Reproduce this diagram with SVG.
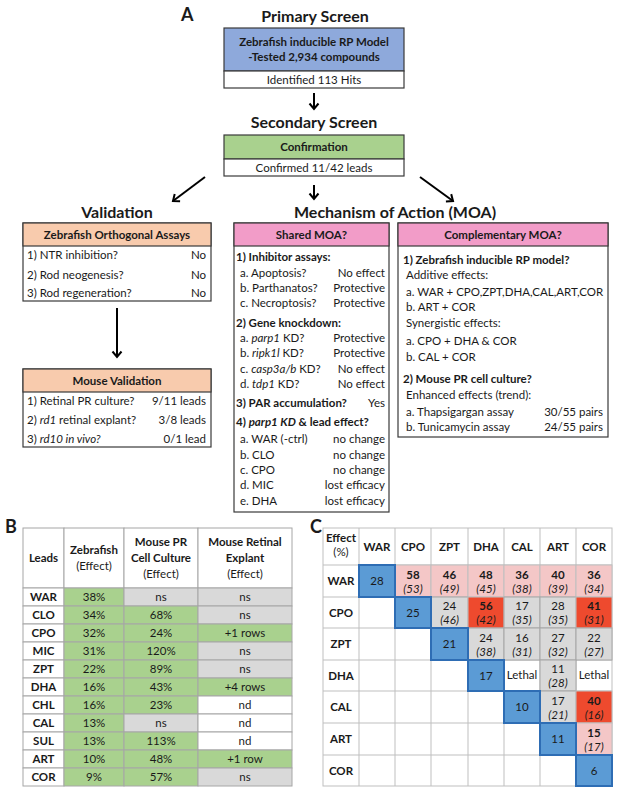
<svg xmlns="http://www.w3.org/2000/svg" width="617" height="792" viewBox="0 0 617 792">
<style>
text{font-family:Lato,"Liberation Sans",sans-serif;font-size:11.5px;fill:#1a1a1a}
.b{font-weight:bold}
.h{font-size:16px;font-weight:bold}
.L{font-size:18px;font-weight:bold}
.m{text-anchor:middle}
.e{text-anchor:end}
.i{font-style:italic}
.box{fill:#fff;stroke:#3a3a3a;stroke-width:1.2}
.blue{fill:#8EA9DB;stroke:#3a3a3a;stroke-width:1.2}
.green{fill:#A9D18E;stroke:#3a3a3a;stroke-width:1.2}
.peach{fill:#F8CBAD;stroke:#3a3a3a;stroke-width:1.2}
.pink{fill:#F29CC8;stroke:#3a3a3a;stroke-width:1.2}
.arr{stroke:#000;stroke-width:2;fill:none}
.cg{fill:#A9D18E;stroke:#A6A6A6;stroke-width:1}
.cn{fill:#D9D9D9;stroke:#A6A6A6;stroke-width:1}
.cw{fill:#fff;stroke:#A6A6A6;stroke-width:1}
.cp{fill:#F4C7C7;stroke:#BFBFBF;stroke-width:1}
.cr{fill:#EE4A2E;stroke:#BFBFBF;stroke-width:1}
.cb{fill:#5B9BD5;stroke:#2E6DB4;stroke-width:2}
</style>
<defs>
<marker id="ah" viewBox="-7 -6 9 12" markerWidth="9" markerHeight="12" refX="0" refY="0" orient="auto" markerUnits="userSpaceOnUse">
<path d="M-5.5,-4.5 L0,0 L-5.5,4.5" fill="none" stroke="#000" stroke-width="2"/>
</marker>
</defs>

<text x="181" y="21" class="L">A</text>

<g id="primary">
<text x="315" y="22" class="h m">Primary Screen</text>
<rect x="224" y="28" width="180" height="43" class="blue"/>
<rect x="224" y="71" width="180" height="17" class="box"/>
<text x="314" y="46" class="b m" font-size="12">Zebrafish inducible RP Model</text>
<text x="314" y="61" class="b m" font-size="12">-Tested 2,934 compounds</text>
<text x="314" y="84" class="m">Identified 113 Hits</text>
</g>

<g id="secondary">
<text x="314" y="128" class="h m">Secondary Screen</text>
<rect x="224" y="135" width="180" height="24" class="green"/>
<rect x="224" y="159" width="180" height="17" class="box"/>
<text x="314" y="151" class="b m" font-size="12">Confirmation</text>
<text x="314" y="172" class="m">Confirmed 11/42 leads</text>
</g>

<g id="connectors">
<line x1="314" y1="93" x2="314" y2="109" class="arr" marker-end="url(#ah)"/>
<line x1="314" y1="185" x2="314" y2="199" class="arr" marker-end="url(#ah)"/>
<line x1="205" y1="177" x2="173" y2="201" class="arr" marker-end="url(#ah)"/>
<line x1="420" y1="177" x2="453" y2="201" class="arr" marker-end="url(#ah)"/>
<line x1="117" y1="308" x2="117" y2="357" class="arr" marker-end="url(#ah)"/>
</g>

<text x="117" y="218" class="h m">Validation</text>
<text x="395" y="218" class="h m">Mechanism of Action (MOA)</text>

<g id="zebrafish-orthogonal">
<rect x="23" y="223" width="188" height="78" class="box"/>
<rect x="23" y="223" width="188" height="23" class="peach"/>
<text x="117" y="239" class="b m">Zebrafish Orthogonal Assays</text>
<text x="27" y="259">1) NTR inhibition?</text><text x="206" y="259" class="e">No</text>
<text x="27" y="279">2) Rod neogenesis?</text><text x="206" y="279" class="e">No</text>
<text x="27" y="297">3) Rod regeneration?</text><text x="206" y="297" class="e">No</text>
</g>

<g id="mouse-validation">
<rect x="23" y="369" width="188" height="78" class="box"/>
<rect x="23" y="369" width="188" height="23" class="peach"/>
<text x="117" y="385" class="b m">Mouse Validation</text>
<text x="27" y="405">1) Retinal PR culture?</text><text x="206" y="405" class="e">9/11 leads</text>
<text x="27" y="424">2) <tspan class="i">rd1</tspan> retinal explant?</text><text x="206" y="424" class="e">3/8 leads</text>
<text x="27" y="443">3) <tspan class="i">rd10 in vivo?</tspan></text><text x="206" y="443" class="e">0/1 lead</text>
</g>

<g id="shared-moa">
<rect x="234" y="223" width="155" height="289" class="box"/>
<rect x="234" y="223" width="155" height="23" class="pink"/>
<text x="311.5" y="239" class="b m">Shared MOA?</text>
<text x="236" y="261" class="b">1) Inhibitor assays:</text>
<text x="240" y="277">a. Apoptosis?</text><text x="385" y="277" class="e">No effect</text>
<text x="240" y="292">b. Parthanatos?</text><text x="385" y="292" class="e">Protective</text>
<text x="240" y="307">c. Necroptosis?</text><text x="385" y="307" class="e">Protective</text>
<text x="236" y="327" class="b">2) Gene knockdown:</text>
<text x="240" y="342">a. <tspan class="i">parp1</tspan> KD?</text><text x="385" y="342" class="e">Protective</text>
<text x="240" y="357">b. <tspan class="i">ripk1l</tspan> KD?</text><text x="385" y="357" class="e">Protective</text>
<text x="240" y="373">c. <tspan class="i">casp3a/b</tspan> KD?</text><text x="385" y="373" class="e">No effect</text>
<text x="240" y="388">d. <tspan class="i">tdp1</tspan> KD?</text><text x="385" y="388" class="e">No effect</text>
<text x="236" y="407" class="b">3) PAR accumulation?</text><text x="385" y="407" class="e">Yes</text>
<text x="236" y="426" class="b">4) <tspan class="i">parp1 KD</tspan> &amp; lead effect?</text>
<text x="240" y="443">a. WAR (-ctrl)</text><text x="385" y="443" class="e">no change</text>
<text x="240" y="459">b. CLO</text><text x="385" y="459" class="e">no change</text>
<text x="240" y="474">c. CPO</text><text x="385" y="474" class="e">no change</text>
<text x="240" y="489">d. MIC</text><text x="385" y="489" class="e">lost efficacy</text>
<text x="240" y="505">e. DHA</text><text x="385" y="505" class="e">lost efficacy</text>
</g>

<g id="complementary-moa">
<rect x="398" y="223" width="210" height="214" class="box"/>
<rect x="398" y="223" width="210" height="23" class="pink"/>
<text x="503" y="239" class="b m">Complementary MOA?</text>
<text x="403" y="264" class="b">1) Zebrafish inducible RP model?</text>
<text x="406" y="279">Additive effects:</text>
<text x="406" y="296">a. WAR + CPO,ZPT,DHA,CAL,ART,COR</text>
<text x="406" y="311">b. ART + COR</text>
<text x="406" y="327">Synergistic effects:</text>
<text x="406" y="345">a. CPO + DHA &amp; COR</text>
<text x="406" y="361">b. CAL + COR</text>
<text x="403" y="383" class="b">2) Mouse PR cell culture?</text>
<text x="406" y="399">Enhanced effects (trend):</text>
<text x="406" y="416">a. Thapsigargan assay</text><text x="603" y="416" class="e">30/55 pairs</text>
<text x="406" y="431">b. Tunicamycin assay</text><text x="603" y="431" class="e">24/55 pairs</text>
</g>

<g id="panel-b">
<text x="5" y="533" class="L">B</text>
<rect x="23" y="528" width="41" height="60" class="cw"/>
<rect x="64" y="528" width="60" height="60" class="cw"/>
<rect x="124" y="528" width="74" height="60" class="cw"/>
<rect x="198" y="528" width="94" height="60" class="cw"/>
<text x="43.5" y="562" class="b m">Leads</text>
<text x="94" y="554" class="b m">Zebrafish</text>
<text x="94" y="570" class="m">(Effect)</text>
<text x="161" y="546" class="b m">Mouse PR</text>
<text x="161" y="562" class="b m">Cell Culture</text>
<text x="161" y="578" class="m">(Effect)</text>
<text x="245" y="546" class="b m">Mouse Retinal</text>
<text x="245" y="562" class="b m">Explant</text>
<text x="245" y="578" class="m">(Effect)</text>

<rect x="23" y="588" width="41" height="18" class="cw"/><rect x="64" y="588" width="60" height="18" class="cg"/><rect x="124" y="588" width="74" height="18" class="cn"/><rect x="198" y="588" width="94" height="18" class="cn"/>
<text x="43.5" y="601" class="b m">WAR</text><text x="94" y="601" class="m">38%</text><text x="161" y="601" class="m">ns</text><text x="245" y="601" class="m">ns</text>

<rect x="23" y="606" width="41" height="18" class="cw"/><rect x="64" y="606" width="60" height="18" class="cg"/><rect x="124" y="606" width="74" height="18" class="cg"/><rect x="198" y="606" width="94" height="18" class="cn"/>
<text x="43.5" y="619" class="b m">CLO</text><text x="94" y="619" class="m">34%</text><text x="161" y="619" class="m">68%</text><text x="245" y="619" class="m">ns</text>

<rect x="23" y="624" width="41" height="18" class="cw"/><rect x="64" y="624" width="60" height="18" class="cg"/><rect x="124" y="624" width="74" height="18" class="cg"/><rect x="198" y="624" width="94" height="18" class="cg"/>
<text x="43.5" y="637" class="b m">CPO</text><text x="94" y="637" class="m">32%</text><text x="161" y="637" class="m">24%</text><text x="245" y="637" class="m">+1 rows</text>

<rect x="23" y="642" width="41" height="18" class="cw"/><rect x="64" y="642" width="60" height="18" class="cg"/><rect x="124" y="642" width="74" height="18" class="cg"/><rect x="198" y="642" width="94" height="18" class="cn"/>
<text x="43.5" y="655" class="b m">MIC</text><text x="94" y="655" class="m">31%</text><text x="161" y="655" class="m">120%</text><text x="245" y="655" class="m">ns</text>

<rect x="23" y="660" width="41" height="18" class="cw"/><rect x="64" y="660" width="60" height="18" class="cg"/><rect x="124" y="660" width="74" height="18" class="cg"/><rect x="198" y="660" width="94" height="18" class="cn"/>
<text x="43.5" y="673" class="b m">ZPT</text><text x="94" y="673" class="m">22%</text><text x="161" y="673" class="m">89%</text><text x="245" y="673" class="m">ns</text>

<rect x="23" y="678" width="41" height="18" class="cw"/><rect x="64" y="678" width="60" height="18" class="cg"/><rect x="124" y="678" width="74" height="18" class="cg"/><rect x="198" y="678" width="94" height="18" class="cg"/>
<text x="43.5" y="691" class="b m">DHA</text><text x="94" y="691" class="m">16%</text><text x="161" y="691" class="m">43%</text><text x="245" y="691" class="m">+4 rows</text>

<rect x="23" y="696" width="41" height="18" class="cw"/><rect x="64" y="696" width="60" height="18" class="cg"/><rect x="124" y="696" width="74" height="18" class="cg"/><rect x="198" y="696" width="94" height="18" class="cw"/>
<text x="43.5" y="709" class="b m">CHL</text><text x="94" y="709" class="m">16%</text><text x="161" y="709" class="m">23%</text><text x="245" y="709" class="m">nd</text>

<rect x="23" y="714" width="41" height="18" class="cw"/><rect x="64" y="714" width="60" height="18" class="cg"/><rect x="124" y="714" width="74" height="18" class="cn"/><rect x="198" y="714" width="94" height="18" class="cw"/>
<text x="43.5" y="727" class="b m">CAL</text><text x="94" y="727" class="m">13%</text><text x="161" y="727" class="m">ns</text><text x="245" y="727" class="m">nd</text>

<rect x="23" y="732" width="41" height="18" class="cw"/><rect x="64" y="732" width="60" height="18" class="cg"/><rect x="124" y="732" width="74" height="18" class="cg"/><rect x="198" y="732" width="94" height="18" class="cw"/>
<text x="43.5" y="745" class="b m">SUL</text><text x="94" y="745" class="m">13%</text><text x="161" y="745" class="m">113%</text><text x="245" y="745" class="m">nd</text>

<rect x="23" y="750" width="41" height="18" class="cw"/><rect x="64" y="750" width="60" height="18" class="cg"/><rect x="124" y="750" width="74" height="18" class="cg"/><rect x="198" y="750" width="94" height="18" class="cg"/>
<text x="43.5" y="763" class="b m">ART</text><text x="94" y="763" class="m">10%</text><text x="161" y="763" class="m">48%</text><text x="245" y="763" class="m">+1 row</text>

<rect x="23" y="768" width="41" height="18" class="cw"/><rect x="64" y="768" width="60" height="18" class="cg"/><rect x="124" y="768" width="74" height="18" class="cg"/><rect x="198" y="768" width="94" height="18" class="cn"/>
<text x="43.5" y="781" class="b m">COR</text><text x="94" y="781" class="m">9%</text><text x="161" y="781" class="m">57%</text><text x="245" y="781" class="m">ns</text>
</g>

<g id="panel-c">
<text x="310" y="533" class="L">C</text>
<g fill="#fff" stroke="#BFBFBF" stroke-width="1">
<rect x="323" y="528" width="289" height="258"/>
<path d="M359,528V786M395,528V786M431,528V786M468,528V786M504,528V786M540,528V786M576,528V786M323,565H612M323,597H612M323,628H612M323,660H612M323,691H612M323,723H612M323,755H612"/>
</g>
<text x="341" y="542" class="b m">Effect</text>
<text x="341" y="556" class="m">(%)</text>
<text x="377" y="551" class="b m">WAR</text>
<text x="413" y="551" class="b m">CPO</text>
<text x="449.5" y="551" class="b m">ZPT</text>
<text x="486" y="551" class="b m">DHA</text>
<text x="522" y="551" class="b m">CAL</text>
<text x="558" y="551" class="b m">ART</text>
<text x="594" y="551" class="b m">COR</text>

<text x="341" y="585" class="b m">WAR</text>
<text x="341" y="617" class="b m">CPO</text>
<text x="341" y="648" class="b m">ZPT</text>
<text x="341" y="680" class="b m">DHA</text>
<text x="341" y="711" class="b m">CAL</text>
<text x="341" y="743" class="b m">ART</text>
<text x="341" y="775" class="b m">COR</text>

<rect x="395" y="565" width="36" height="32" class="cp"/><rect x="431" y="565" width="37" height="32" class="cp"/><rect x="468" y="565" width="36" height="32" class="cp"/><rect x="504" y="565" width="36" height="32" class="cp"/><rect x="540" y="565" width="36" height="32" class="cp"/><rect x="576" y="565" width="36" height="32" class="cp"/>
<text x="413" y="579" class="b m">58</text><text x="413" y="593" class="i m">(53)</text>
<text x="449.5" y="579" class="b m">46</text><text x="449.5" y="593" class="i m">(49)</text>
<text x="486" y="579" class="b m">48</text><text x="486" y="593" class="i m">(45)</text>
<text x="522" y="579" class="b m">36</text><text x="522" y="593" class="i m">(38)</text>
<text x="558" y="579" class="b m">40</text><text x="558" y="593" class="i m">(39)</text>
<text x="594" y="579" class="b m">36</text><text x="594" y="593" class="i m">(34)</text>

<rect x="431" y="597" width="37" height="31" class="cn"/><rect x="468" y="597" width="36" height="31" class="cr"/><rect x="504" y="597" width="36" height="31" class="cn"/><rect x="540" y="597" width="36" height="31" class="cn"/><rect x="576" y="597" width="36" height="31" class="cr"/>
<text x="449.5" y="610" class="m">24</text><text x="449.5" y="624" class="i m">(46)</text>
<text x="486" y="610" class="b m">56</text><text x="486" y="624" class="i m">(42)</text>
<text x="522" y="610" class="m">17</text><text x="522" y="624" class="i m">(35)</text>
<text x="558" y="610" class="m">28</text><text x="558" y="624" class="i m">(35)</text>
<text x="594" y="610" class="b m">41</text><text x="594" y="624" class="i m">(31)</text>

<rect x="468" y="628" width="36" height="32" class="cn"/><rect x="504" y="628" width="36" height="32" class="cn"/><rect x="540" y="628" width="36" height="32" class="cn"/><rect x="576" y="628" width="36" height="32" class="cn"/>
<text x="486" y="642" class="m">24</text><text x="486" y="656" class="i m">(38)</text>
<text x="522" y="642" class="m">16</text><text x="522" y="656" class="i m">(31)</text>
<text x="558" y="642" class="m">27</text><text x="558" y="656" class="i m">(32)</text>
<text x="594" y="642" class="m">22</text><text x="594" y="656" class="i m">(27)</text>

<rect x="540" y="660" width="36" height="31" class="cn"/>
<text x="522" y="679" class="m" font-size="10.5">Lethal</text>
<text x="558" y="673" class="m">11</text><text x="558" y="687" class="i m">(28)</text>
<text x="594" y="679" class="m" font-size="10.5">Lethal</text>

<rect x="540" y="691" width="36" height="32" class="cn"/><rect x="576" y="691" width="36" height="32" class="cr"/>
<text x="558" y="705" class="m">17</text><text x="558" y="719" class="i m">(21)</text>
<text x="594" y="705" class="b m">40</text><text x="594" y="719" class="i m">(16)</text>

<rect x="576" y="723" width="36" height="32" class="cp"/>
<text x="594" y="737" class="b m">15</text><text x="594" y="751" class="i m">(17)</text>

<rect x="359" y="565" width="36" height="32" class="cb"/><text x="377" y="585" class="m">28</text>
<rect x="395" y="597" width="36" height="31" class="cb"/><text x="413" y="617" class="m">25</text>
<rect x="431" y="628" width="37" height="32" class="cb"/><text x="449.5" y="648" class="m">21</text>
<rect x="468" y="660" width="36" height="31" class="cb"/><text x="486" y="680" class="m">17</text>
<rect x="504" y="691" width="36" height="32" class="cb"/><text x="522" y="711" class="m">10</text>
<rect x="540" y="723" width="36" height="32" class="cb"/><text x="558" y="743" class="m">11</text>
<rect x="576" y="755" width="36" height="31" class="cb"/><text x="594" y="775" class="m">6</text>
</g>
</svg>
